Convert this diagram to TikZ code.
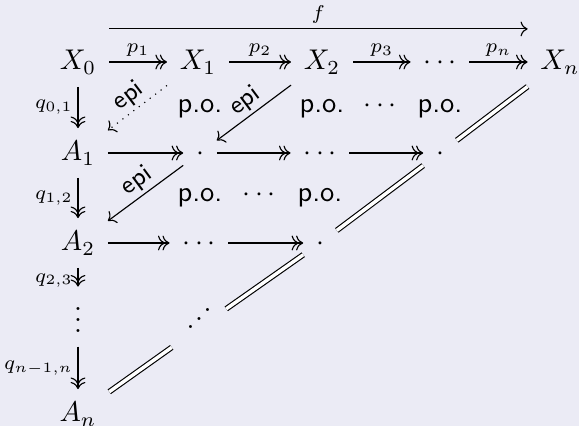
\documentclass[tikz,border=0pt]{standalone}
\usetikzlibrary{arrows.meta}
\definecolor{bg}{RGB}{235,235,245}
\newcommand\myiddots{\hbox{.\kern0.2pt\raise3pt\hbox{.}\kern0.2pt\raise6pt\hbox{.}}}
\newcommand\myvdots{\vbox{\baselineskip4pt\lineskiplimit0pt\hbox{.}\hbox{.}\hbox{.}}}
\begin{document}
\begin{tikzpicture}[x=0.35088pt,y=-0.35088pt,
  >={Computer Modern Rightarrow},
  line width=0.4pt,
  twohead/.style={-{Computer Modern Rightarrow[sep=-0.9pt]Computer Modern Rightarrow}},
  obj/.style={inner sep=4.3pt, text height=7pt, text depth=1.5pt},
  lbl/.style={inner sep=1.6pt, font=\scriptsize},
  epilbl/.style={inner sep=1pt, font=\small\sffamily, sloped, above, midway},
  po/.style={anchor=base, font=\sffamily, inner sep=0pt},
  eqline/.style={double=white, double distance=1.2pt},
]
\fill[bg] (0,0) rectangle (579,426);
\useasboundingbox (0,0) rectangle (579,426);
% objects
\node[obj] (X0) at (78,62) {$X_0$};
\node[obj] (X1) at (198,62) {$X_1$};
\node[obj] (X2) at (322,62) {$X_2$};
\node[obj] (X3) at (440,62) {$\cdots$};
\node[obj] (Xn) at (560,62) {$X_n$};
\node[obj] (A1) at (78,153) {$A_1$};
\node[obj] (B11) at (200,153) {$\cdot$};
\node[obj] (B12) at (320,153) {$\cdots$};
\node[obj] (B13) at (440,153) {$\cdot$};
\node[obj] (A2) at (78,243) {$A_2$};
\node[obj] (B21) at (199,243) {$\cdots$};
\node[obj] (B22) at (320,243) {$\cdot$};
\node[inner xsep=4.3pt, inner ysep=4.6pt] (A3) at (78,320) {\myvdots};
\node[inner xsep=5pt, inner ysep=4.3pt, text height=7.06pt, text depth=6.4pt] (B31) at (199,328) {\myiddots};
\node[obj] (An) at (78,414) {$A_n$};
% pushout marks
\node[po] (po1) at (200,113) {p.o.};
\node[po] (po2) at (322,113) {p.o.};
\node[po] (pd1) at (380,113) {$\cdots$};
\node[po] (po3) at (440,113) {p.o.};
\node[po] (po4) at (200,202) {p.o.};
\node[po] (pd2) at (259,202) {$\cdots$};
\node[po] (po5) at (320,202) {p.o.};
% arrows
\draw[->] ([yshift=11.6pt]X0.east) -- node[lbl, above]{$f$} ([yshift=11.6pt]Xn.west);
\draw[twohead] (X0) -- node[lbl, above]{$p_1$} (X1);
\draw[twohead] (X1) -- node[lbl, above]{$p_2$} (X2);
\draw[twohead] (X2) -- node[lbl, above]{$p_3$} (X3);
\draw[twohead] (X3) -- node[lbl, above]{$p_n$} (Xn);
\draw[twohead] (X0) -- node[lbl, left]{$q_{0,1}$} (A1);
\draw[twohead] (A1) -- node[lbl, left]{$q_{1,2}$} (A2);
\draw[twohead, shorten >=2.4pt] (A2) -- node[lbl, left]{$q_{2,3}$} (A3);
\draw[twohead] (A3) -- node[lbl, left]{$q_{n-1,n}$} (An);
\draw[->, dotted] (X1) -- node[epilbl]{epi} (A1);
\draw[->] (X2) -- node[epilbl]{epi} (B11);
\draw[->] (B11) -- node[epilbl]{epi} (A2);
\draw[twohead] (A1) -- (B11);
\draw[twohead] (B11) -- (B12);
\draw[twohead] (B12) -- (B13);
\draw[twohead] (A2) -- (B21);
\draw[twohead] (B21) -- (B22);
\draw[eqline] (Xn) -- (B13);
\draw[eqline] (B13) -- (B22);
\draw[eqline] (B22) -- (B31);
\draw[eqline] (B31) -- (An);
\end{tikzpicture}
\end{document}
